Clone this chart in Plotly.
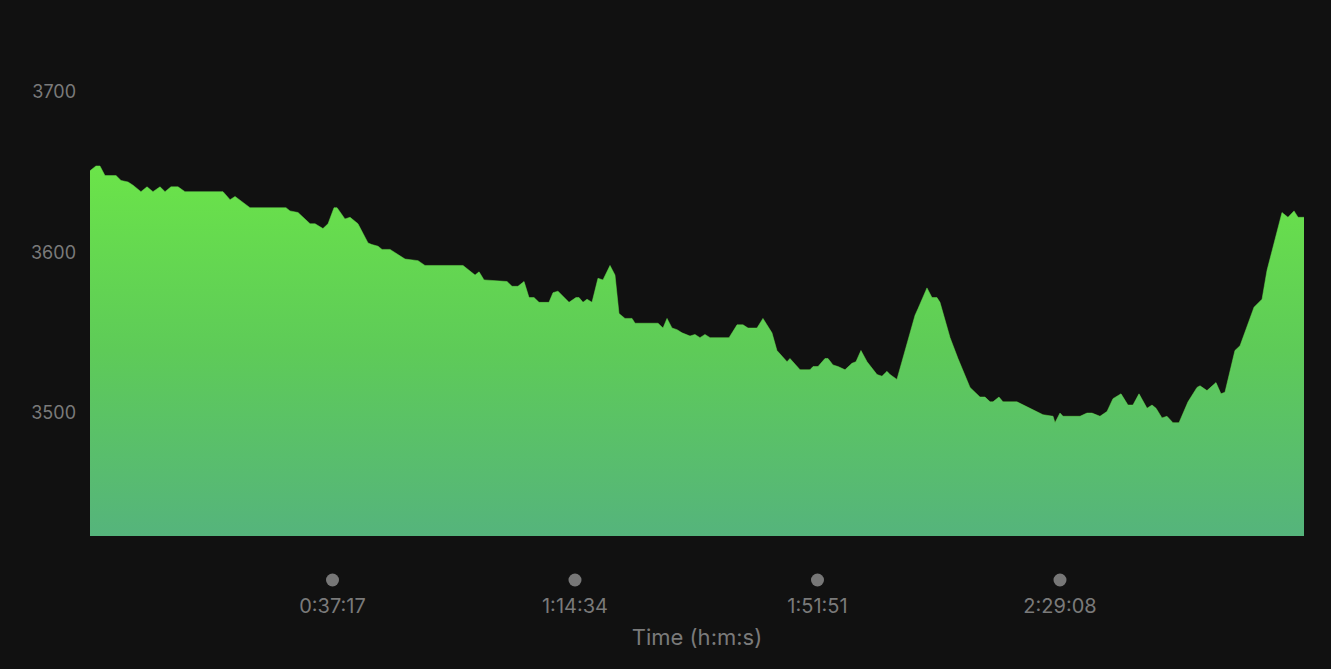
import plotly.graph_objects as go

# elapsed time in seconds
time_s = [0, 55, 92, 138, 240, 286, 351, 397, 470, 526, 581, 646, 692, 747, 812, 876,
          1227, 1292, 1338, 1393, 1476, 1808, 1845, 1919, 2030, 2076, 2149, 2196, 2251, 2279,
          2352, 2399, 2472, 2565, 2601, 2657, 2694, 2768, 2814, 2906, 3026, 3090, 3441, 3552,
          3589, 3635, 3847, 3893, 3948, 4004, 4050, 4096, 4142, 4234, 4271, 4317, 4419, 4483,
          4511, 4548, 4585, 4631, 4686, 4732, 4797, 4843, 4880, 4935, 5000, 5028, 5240, 5286,
          5323, 5369, 5415, 5461, 5535, 5581, 5627, 5673, 5720, 5895, 5969, 6024, 6070, 6153,
          6208, 6291, 6337, 6430, 6457, 6550, 6642, 6670, 6716, 6780, 6808, 6854, 6900, 6965,
          7029, 7066, 7112, 7168, 7260, 7306, 7352, 7380, 7444, 7518, 7611, 7638, 7721, 7767,
          7813, 7841, 7934, 8007, 8118, 8210, 8256, 8303, 8330, 8385, 8422, 8551, 8644, 8699,
          8791, 8884, 8902, 8948, 8976, 9133, 9197, 9243, 9317, 9382, 9437, 9511, 9575, 9621,
          9677, 9751, 9797, 9834, 9889, 9935, 9990, 10046, 10129, 10212, 10240, 10304, 10387,
          10433, 10470, 10562, 10609, 10738, 10812, 10858, 10913, 10996, 11051, 11107, 11144,
          11199]

# elevation in metres
elevation = [3651, 3654, 3654, 3648, 3648, 3645, 3644, 3642, 3638, 3641, 3638, 3641, 3638,
             3641, 3641, 3638, 3638, 3633, 3635, 3632, 3628, 3628, 3626, 3625, 3618, 3618,
             3615, 3618, 3628, 3628, 3621, 3622, 3618, 3606, 3605, 3604, 3602, 3602, 3600,
             3596, 3595, 3592, 3592, 3586, 3588, 3583, 3582, 3579, 3579, 3582, 3572, 3572,
             3569, 3569, 3575, 3576, 3569, 3572, 3572, 3569, 3571, 3569, 3584, 3583, 3592,
             3586, 3562, 3559, 3559, 3556, 3556, 3553, 3559, 3553, 3552, 3550, 3548, 3549,
             3547, 3549, 3547, 3547, 3555, 3555, 3553, 3553, 3559, 3550, 3539, 3532, 3534,
             3527, 3527, 3529, 3529, 3534, 3534, 3530, 3529, 3527, 3531, 3532, 3539, 3532,
             3524, 3523, 3526, 3524, 3521, 3539, 3561, 3565, 3578, 3572, 3572, 3569, 3547,
             3534, 3516, 3510, 3510, 3507, 3507, 3510, 3507, 3507, 3504, 3502, 3499, 3498,
             3494, 3500, 3498, 3498, 3500, 3500, 3498, 3501, 3509, 3512, 3505, 3505, 3512,
             3503, 3505, 3503, 3497, 3498, 3494, 3494, 3507, 3516, 3517, 3514, 3519, 3512,
             3513, 3539, 3542, 3566, 3571, 3589, 3603, 3625, 3622, 3626, 3622, 3622]

tick_vals = [2237, 4474, 6711, 8948]
tick_text = ["0:37:17", "1:14:34", "1:51:51", "2:29:08"]
y_ticks = [3500, 3600, 3700]

BG = "#111111"
GRAY = "#7a7a7a"
FONT = "Inter"

fig = go.Figure()
fig.add_trace(go.Scatter(
    x=time_s, y=elevation, mode="lines",
    line=dict(width=0.5, color="#67dc4c"),
    fill="tozeroy",
    fillgradient=dict(type="vertical", start=3423, stop=3655,
                      colorscale=[[0, "#55b47c"], [0.5, "#5ecb58"], [1, "#6be449"]]),
    hoverinfo="skip",
))

shapes = []
for tv in tick_vals:
    shapes.append(dict(type="circle", xref="x", yref="paper",
                       xsizemode="pixel", ysizemode="pixel",
                       xanchor=tv, yanchor=-0.0887,
                       x0=-6.5, x1=6.5, y0=-6.5, y1=6.5,
                       fillcolor="#777777", line=dict(width=0)))

fig.update_layout(
    width=1331, height=669,
    margin=dict(l=90, r=27, t=40, b=133),
    paper_bgcolor=BG, plot_bgcolor=BG,
    showlegend=False,
    shapes=shapes,
    font=dict(family=FONT, color=GRAY),
    xaxis=dict(range=[0, 11199], tickvals=tick_vals, ticktext=tick_text,
               showgrid=False, zeroline=False, showline=False,
               ticks="", ticklabelstandoff=56,
               tickfont=dict(size=20, color=GRAY, family=FONT),
               title=dict(text="Time (h:m:s)", font=dict(size=22, color=GRAY, family=FONT),
                          standoff=12),
               fixedrange=True),
    yaxis=dict(range=[3423.4, 3732.5], tickvals=y_ticks,
               showgrid=False, zeroline=False, showline=False,
               ticks="", ticklabelstandoff=13,
               tickfont=dict(size=18, color=GRAY, family=FONT),
               fixedrange=True),
)

fig.write_html("out.html")
